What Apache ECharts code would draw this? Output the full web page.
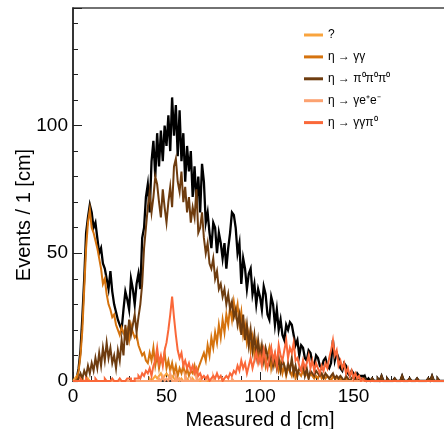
<!DOCTYPE html>
<html>
<head>
    <meta charset="utf-8">
    <title>Measured d</title>
    <script src="https://cdn.jsdelivr.net/npm/echarts@6/dist/echarts.min.js"></script>
    <style>
        html, body { margin: 0; padding: 0; background: #fff; }
        #charts { width: 444px; height: 429px; }
    </style>
</head>
<body>
<div id="charts"></div>
<script>
    // bins of 1 cm, d = 0 .. 199
    var dataTotal = [
        0,0,1,5,12,25,40,58,64,69,
        66,60,62,56,50,52,46,44,40,36,
        43,35,30,27,24,22,20,28,35,32,
        28,40,36,30,38,42,36,56,60,72,
        77,66,86,94,80,97,84,98,86,100,
        92,104,90,111,96,108,88,106,86,97,
        78,92,82,90,72,84,70,80,66,85,
        78,62,66,58,52,62,60,50,58,54,
        48,54,44,52,58,66,65,60,50,54,
        38,48,44,36,42,44,34,38,30,36,
        33,28,37,34,26,24,33,30,22,28,
        20,24,18,16,22,20,23,22,18,14,
        16,10,14,13,9,8,12,11,7,6,
        10,9,6,5,8,9,6,5,7,16,
        8,11,9,5,4,7,6,3,2,4,
        3,1,3,2,2,1,2,0,1,0,
        1,0,0,1,0,2,0,0,1,0,
        0,0,1,0,0,0,2,0,0,0,
        1,0,0,0,1,0,0,0,0,0,
        1,0,2,0,0,1,0,0,0,0
    ];
    var dataUnknown = [
        0,1,2,1,2,1,0,0,1,0,
        0,0,0,0,0,0,0,0,0,0,
        0,0,0,0,0,0,0,0,0,0,
        0,0,0,0,0,0,0,0,0,0,
        0,1,0,1,2,1,2,3,1,2,
        3,2,1,2,1,0,1,0,1,0,
        0,1,0,0,1,0,0,0,0,0,
        0,0,0,0,0,0,0,0,0,0,
        0,0,0,0,0,0,0,0,0,0,
        0,0,0,0,0,0,0,0,0,0,
        0,0,0,0,0,0,0,0,0,0,
        0,0,0,0,0,0,0,0,0,0,
        0,0,0,0,0,0,0,0,0,0,
        0,0,0,0,0,0,0,0,0,0,
        0,0,0,0,0,0,0,0,0,0,
        0,0,0,0,0,0,0,0,0,0,
        0,0,0,0,0,0,0,0,0,0,
        0,0,0,0,0,0,0,0,0,0,
        0,0,0,0,0,0,0,0,0,0,
        0,0,0,0,0,0,0,0,0,0
    ];
    var dataGG = [
        0,0,1,4,10,20,36,52,62,67,
        60,58,55,52,48,44,38,40,34,30,
        28,25,26,22,20,18,21,19,17,20,
        16,22,19,17,18,14,12,10,11,8,
        7,11,8,13,6,10,5,9,7,11,
        5,8,4,7,3,6,2,5,3,6,
        2,5,2,4,3,6,2,5,7,9,
        11,8,14,10,17,13,19,15,22,17,
        24,19,26,22,29,24,31,26,30,22,
        27,18,22,15,19,12,17,10,15,9,
        13,8,12,6,10,13,5,9,6,8,
        4,7,3,6,2,5,4,2,5,1,
        4,3,2,4,2,3,1,3,2,1,
        2,1,3,1,2,1,2,1,0,2,
        1,1,0,1,0,0,1,0,0,0,
        0,0,0,0,0,0,0,0,0,0,
        0,0,0,0,0,0,0,0,0,0,
        0,0,0,0,0,0,0,0,0,0,
        0,0,0,0,0,0,0,0,0,0,
        0,0,0,0,0,0,0,0,0,0
    ];
    var data3Pi0 = [
        0,0,0,1,3,1,4,2,6,3,
        7,4,9,5,11,6,13,8,15,9,
        13,7,10,5,12,8,16,10,22,14,
        24,18,22,26,19,25,30,38,52,60,
        68,74,66,72,80,77,70,64,75,68,
        62,70,76,68,84,87,78,74,82,70,
        76,66,72,62,68,64,75,58,60,66,
        56,50,54,46,44,48,40,43,36,38,
        33,36,30,34,28,31,25,28,22,26,
        18,26,16,22,14,20,12,18,10,16,
        9,14,8,13,10,7,12,6,10,5,
        9,4,8,6,3,7,4,9,3,6,
        2,5,4,7,2,5,1,4,3,2,
        4,3,2,3,1,3,2,1,2,3,
        1,2,1,2,1,0,2,1,0,1,
        2,0,1,0,1,0,1,0,0,0,
        1,0,0,1,0,2,0,0,1,0,
        0,0,1,0,0,0,2,0,0,0,
        1,0,0,0,1,0,0,0,0,0,
        1,0,2,0,0,1,0,0,0,0
    ];
    var dataGEE = [
        0,0,0,0,0,0,0,0,0,0,
        0,0,0,0,0,0,0,0,0,0,
        0,0,0,0,0,0,0,0,0,0,
        0,0,0,0,0,0,0,0,0,0,
        0,0,0,0,0,0,1,0,2,0,
        1,0,3,0,0,2,0,1,0,0,
        2,0,0,1,0,0,2,0,1,0,
        0,0,1,0,0,2,0,0,0,0,
        1,0,0,0,0,1,0,0,0,0,
        0,0,0,0,0,0,0,0,0,0,
        0,0,0,0,0,0,0,0,0,0,
        0,0,0,0,0,0,0,0,0,0,
        0,0,0,0,0,0,0,0,0,0,
        0,0,0,0,0,0,0,0,0,0,
        0,0,0,0,0,0,0,0,0,0,
        0,0,0,0,0,0,0,0,0,0,
        0,0,0,0,0,0,0,0,0,0,
        0,0,0,0,0,0,0,0,0,0,
        0,0,0,0,0,0,0,0,0,0,
        0,0,0,0,0,0,0,0,0,0
    ];
    var dataGGPi0 = [
        0,0,0,0,1,0,0,1,0,0,
        0,0,1,0,0,0,0,1,0,0,
        0,1,0,0,0,1,0,0,0,1,
        1,0,0,1,1,2,1,3,2,4,
        3,5,2,6,8,13,7,10,6,12,
        15,20,26,33,25,18,12,9,11,6,
        8,5,7,4,6,3,5,2,3,1,
        2,1,2,0,1,2,1,3,1,2,
        0,1,2,1,3,2,4,3,6,4,
        8,5,7,3,6,9,5,8,11,7,
        10,6,12,8,5,9,13,8,11,6,
        14,10,8,12,16,9,13,11,15,8,
        9,6,4,8,5,7,10,5,8,4,
        7,5,3,6,4,7,5,9,12,16,
        10,12,6,8,5,7,3,5,2,4,
        1,3,1,2,0,1,0,0,0,0,
        0,0,0,0,0,0,0,0,0,0,
        0,0,0,0,0,0,0,0,0,0,
        0,0,0,0,0,0,0,0,0,0,
        0,0,0,0,0,0,0,0,0,0
    ];

    var binWidth = 1;
    var xMax = 200;

    // histogram outline: each bin drawn flat from its low edge to the next one
    function toSteps(values) {
        var pts = [];
        for (var i = 0; i < values.length; i++) {
            pts.push([i * binWidth, values[i]]);
        }
        pts.push([values.length * binWidth, values[values.length - 1]]);
        return pts;
    }

    function histSeries(name, values, color, width) {
        return {
            name: name,
            type: 'line',
            step: 'end',
            symbol: 'none',
            animation: false,
            lineStyle: { color: color, width: width, join: 'miter', cap: 'butt' },
            itemStyle: { color: color },
            data: toSteps(values)
        };
    }

    var font = 'Liberation Sans, Arial, sans-serif';
    var myChart = echarts.init(document.getElementById('charts'));

    var option = {
        backgroundColor: '#fff',
        animation: false,
        grid: {
            left: 73, top: 8, width: 374, height: 373,
            outerBoundsMode: 'none',
            containLabel: false,
            show: true, borderColor: '#444', borderWidth: 1.5
        },
        legend: {
            orient: 'vertical',
            left: 304, top: 29,
            padding: 0,
            icon: 'rect',
            itemWidth: 19, itemHeight: 3, itemGap: 9.9,
            textStyle: { fontFamily: font, fontSize: 12, color: '#000' },
            data: ['?', 'η → γγ', 'η → π⁰π⁰π⁰', 'η → γe⁺e⁻', 'η → γγπ⁰']
        },
        xAxis: {
            type: 'value', min: 0, max: xMax, interval: 50,
            name: 'Measured d [cm]', nameLocation: 'middle', nameGap: 25,
            nameTextStyle: { fontFamily: font, fontSize: 20, color: '#000' },
            axisLine: { lineStyle: { color: '#222', width: 1.5 } },
            axisTick: { inside: true, length: 9, lineStyle: { color: '#222' } },
            minorTick: { show: true, splitNumber: 5, length: 5, lineStyle: { color: '#222' } },
            axisLabel: { fontFamily: font, fontSize: 19, color: '#000', margin: 6, showMaxLabel: false },
            splitLine: { show: false }
        },
        yAxis: {
            type: 'value', min: 0, max: 146, interval: 50,
            axisLine: { show: true, lineStyle: { color: '#222', width: 1.5 } },
            axisTick: { show: true, inside: true, length: 9, lineStyle: { color: '#222' } },
            minorTick: { show: true, splitNumber: 5, length: 5, lineStyle: { color: '#222' } },
            axisLabel: {
                fontFamily: font, fontSize: 19, color: '#000', margin: 5, showMaxLabel: false,
                formatter: function (v) { return v % 50 === 0 ? String(v) : ''; }
            },
            splitLine: { show: false }
        },
        graphic: [{
            type: 'text',
            x: 24, y: 215,
            rotation: Math.PI / 2,
            style: {
                text: 'Events / 1 [cm]',
                fontFamily: font, fontSize: 20, fill: '#000',
                align: 'center', verticalAlign: 'middle'
            }
        }],
        series: [
            histSeries('data', dataTotal, '#000000', 2.3),
            histSeries('?', dataUnknown, '#f9a43e', 2),
            histSeries('η → γγ', dataGG, '#d5730e', 2),
            histSeries('η → π⁰π⁰π⁰', data3Pi0, '#6e3c0f', 2),
            histSeries('η → γe⁺e⁻', dataGEE, '#fca271', 2),
            histSeries('η → γγπ⁰', dataGGPi0, '#fa6839', 2)
        ]
    };
    myChart.setOption(option);
</script>
</body>
</html>
